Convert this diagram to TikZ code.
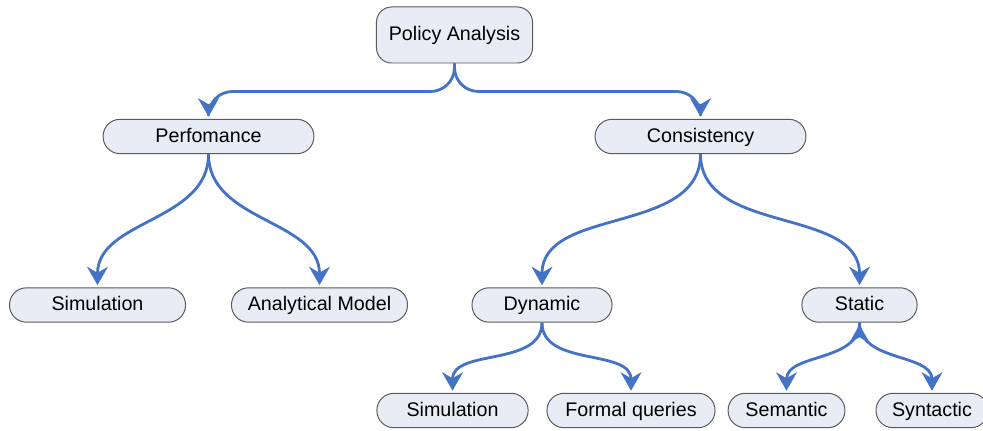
\documentclass[tikz,border=0pt]{standalone}
\usepackage{fontspec}
\setmainfont{Liberation Sans}
\usetikzlibrary{arrows.meta}

\definecolor{linkblue}{RGB}{68,114,196}
\definecolor{boxfill}{RGB}{232,236,245}
\definecolor{boxline}{RGB}{90,90,90}

\begin{document}
\begin{tikzpicture}[x=0.025cm,y=-0.025cm,
  box/.style={rectangle,draw=boxline,fill=boxfill,line width=0.7pt,
    font=\fontsize{14pt}{16pt}\selectfont,inner sep=0pt,
    text height=11pt,text depth=3pt},
  main node/.style={box,rounded corners=4.25mm,minimum height=8.6mm},
  top node/.style={box,rounded corners=3.8mm,minimum height=14mm,minimum width=3.9cm},
  link/.style={draw,color=linkblue,line width=2pt,shorten >=1.5pt,
    -{Stealth[length=4.6mm,width=5.2mm,inset=1.5mm]}},
  fork/.style={rounded corners=6mm,to path={-- ++(0,28) -| (\tikztotarget)}},
  branch/.style={out=-90,in=90}]

  \useasboundingbox (0,0) rectangle (983,431);

  \node[top node] (root) at (454.5,35) {Policy Analysis};
  \node[main node,minimum width=5.27cm] (perf) at (208.5,136.5) {Perfomance};
  \node[main node,minimum width=5.27cm] (cons) at (700.5,136.5) {Consistency};
  \node[main node,minimum width=4.4cm] (sim1) at (97.5,305) {Simulation};
  \node[main node,minimum width=4.4cm] (anal) at (319.5,305) {Analytical Model};
  \node[main node,minimum width=3.5cm] (dyn) at (542,305) {Dynamic};
  \node[main node,minimum width=2.88cm] (stat) at (859.5,305) {Static};
  \node[main node,minimum width=3.78cm] (sim2) at (452.5,410.5) {Simulation};
  \node[main node,minimum width=4.2cm] (formal) at (631,410.5) {Formal queries};
  \node[main node,minimum width=2.92cm] (sem) at (786.5,410.5) {Semantic};
  \node[main node,minimum width=2.8cm] (syn) at (932,410.5) {Syntactic};

  \path[link]
   (root.south) edge[fork] (perf.north)
   (root.south) edge[fork] (cons.north)
   (perf.south) edge[branch] (sim1.north)
   (perf.south) edge[branch] (anal.north)
   (cons.south) edge[branch] (dyn.north)
   (cons.south) edge[branch] (stat.north)
   (dyn.south) edge[branch] (sim2.north)
   (dyn.south) edge[branch] (formal.north)
   (stat.south) edge[branch] (sem.north)
   (stat.south) edge[branch] (syn.north);
\end{tikzpicture}
\end{document}
